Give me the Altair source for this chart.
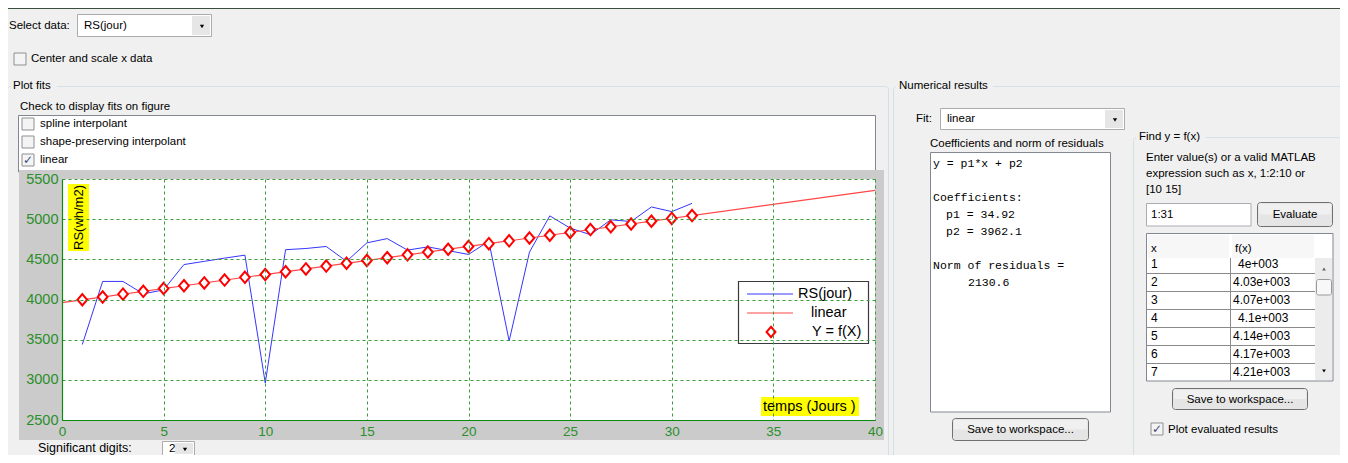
import altair as alt
import pandas as pd

# ---------------- data ----------------
days = list(range(1, 32))
rs_values = [3440, 4225, 4225, 4070, 4120, 4435, 4475, 4515, 4552, 2960,
             4620, 4635, 4660, 4475, 4705, 4758, 4615, 4655, 4608, 4561,
             4725, 3484, 4590, 5041, 4889, 4807, 4992, 4971, 5152, 5094, 5197]
fit_x = [0, 40]
fit_y = [3962.1, 5358.9]
eval_x = list(range(1, 32))
eval_y = [3997.0, 4031.9, 4066.9, 4101.8, 4136.7, 4171.6, 4206.5, 4241.5,
          4276.4, 4311.3, 4346.2, 4381.1, 4416.1, 4451.0, 4485.9, 4520.8,
          4555.7, 4590.7, 4625.6, 4660.5, 4695.4, 4730.3, 4765.3, 4800.2,
          4835.1, 4870.0, 4904.9, 4939.9, 4974.8, 5009.7, 5044.6]
x_ticks = [0, 5, 10, 15, 20, 25, 30, 35, 40]
y_ticks = [2500, 3000, 3500, 4000, 4500, 5000, 5500]
legend_labels = ["RS(jour)", "linear", "Y = f(X)"]
fit_items = ["spline interpolant", "shape-preserving interpolant", "linear"]
fit_checked = [False, False, True]
coef_lines = ["y = p1*x + p2", "Coefficients:", "p1 = 34.92", "p2 = 3962.1",
              "Norm of residuals =", "2130.6"]
find_help = ["Enter value(s) or a valid MATLAB", "expression such as x, 1:2:10 or", "[10 15]"]
table_x = ["1", "2", "3", "4", "5", "6", "7"]
table_fx = ["4e+003", "4.03e+003", "4.07e+003", "4.1e+003", "4.14e+003", "4.17e+003", "4.21e+003"]

# ---------------- styling / layout ----------------
OX, OY = 62, 179          # page position of the plot area's top-left corner
PW, PH = 813, 241         # plot area size
GUI = "Liberation Sans"
MONO = "Liberation Mono"
GREEN = "#0b8a0b"
LABEL_GREEN = "#2a8f2a"
GRID = "#3a9d3a"
ONE = pd.DataFrame({"k": [0]})


def rect(x1, y1, x2, y2, fill=None, stroke=None, sw=1, r=0):
    kw = dict(strokeWidth=sw, cornerRadius=r)
    if fill:
        kw["fill"] = fill
    else:
        kw["fill"] = "#ffffff"
        kw["fillOpacity"] = 0
    if stroke:
        kw["stroke"] = stroke
    return alt.Chart(ONE).mark_rect(**kw).encode(
        x=alt.value(x1 - OX), x2=alt.value(x2 - OX),
        y=alt.value(y1 - OY), y2=alt.value(y2 - OY))


def text(s, x, y, size=11.5, font=GUI, align="left", color="#000000", angle=0):
    kw = dict(text=s, align=align, baseline="middle", fontSize=size, font=font, color=color)
    if angle:
        kw["angle"] = angle
    return alt.Chart(ONE).mark_text(**kw).encode(x=alt.value(x - OX), y=alt.value(y - OY))


def hline(x1, x2, y, color, sw=1):
    return alt.Chart(ONE).mark_rule(color=color, strokeWidth=sw).encode(
        x=alt.value(x1 - OX), x2=alt.value(x2 - OX), y=alt.value(y - OY))


def vline(x, y1, y2, color, sw=1):
    return alt.Chart(ONE).mark_rule(color=color, strokeWidth=sw).encode(
        x=alt.value(x - OX), y=alt.value(y1 - OY), y2=alt.value(y2 - OY))


def arrow(x, y, size=18):
    return alt.Chart(ONE).mark_point(shape="triangle-down", filled=True, color="#000000",
                                     size=size, opacity=1).encode(
        x=alt.value(x - OX), y=alt.value(y - OY))


def checkbox(x, y, checked=False):
    parts = [rect(x, y, x + 12, y + 12, fill="#f4f4f4", stroke="#8e8f8f")]
    if checked:
        parts.append(text("\u2713", x + 6, y + 6, size=12, font="DejaVu Sans",
                          align="center", color="#3b4a7a"))
    return parts


def combo(x1, y1, x2, y2, label):
    return [rect(x1 + 0.5, y1 + 0.5, x2 - 0.5, y2 - 0.5, fill="#ffffff", stroke="#acacac"),
            rect(x2 - 20, y1 + 2, x2 - 2, y2 - 2, fill="#e6e6e6"),
            text(label, x1 + 7, (y1 + y2) / 2),
            arrow(x2 - 10, (y1 + y2) / 2 + 1)]


def button(x1, y1, x2, y2, label):
    return [rect(x1 + 0.5, y1 + 0.5, x2 - 0.5, y2 - 0.5, fill="#e5e5e5", stroke="#707070", r=3),
            rect(x1 + 2, y1 + 2, x2 - 2, (y1 + y2) / 2, fill="#f0f0f0"),
            text(label, (x1 + x2) / 2, (y1 + y2) / 2 + 0.5, align="center")]


gui = []
# top separator line
gui.append(rect(8, 8, 1340, 9, fill="#3b4d3b"))
# select data
gui.append(text("Select data:", 9, 26))
gui += combo(77, 14, 212, 37, "RS(jour)")
gui += checkbox(14, 53)
gui.append(text("Center and scale x data", 31, 59))
# group boxes
gui.append(rect(7.5, 86.5, 888.5, 470, stroke="#d5dfe5", r=3))
gui.append(rect(11, 79, 57, 94, fill="#f0f0f0"))
gui.append(text("Plot fits", 13, 86))
gui.append(rect(893.5, 86.5, 1345.5, 470, stroke="#d5dfe5", r=3))
gui.append(rect(896, 79, 993, 94, fill="#f0f0f0"))
gui.append(text("Numerical results", 899, 86))
gui.append(text("Check to display fits on figure", 20, 107))
gui.append(rect(18.5, 115.5, 875.5, 172, fill="#ffffff", stroke="#828790"))
for i, (item, chk) in enumerate(zip(fit_items, fit_checked)):
    gui += checkbox(22, 118 + 18 * i, chk)
    gui.append(text(item, 40, 124 + 18 * i))
# gray figure frame around the plot area
gui.append(rect(19, 170, OX, 440, fill="#cbcbcb"))
gui.append(rect(OX + PW, 170, 884, 440, fill="#cbcbcb"))
gui.append(rect(OX, 170, OX + PW, OY, fill="#cbcbcb"))
gui.append(rect(OX, OY + PH, OX + PW, 440, fill="#cbcbcb"))
# significant digits (lifted a little so it stays inside the page)
gui.append(text("Significant digits:", 38, 448, size=12.5))
gui += combo(162, 441, 195, 456, "2")
# numerical results
gui.append(text("Fit:", 916, 119))
gui += combo(940, 108, 1125, 130, "linear")
gui.append(text("Coefficients and norm of residuals", 930, 144))
gui.append(rect(930.5, 152.5, 1110.5, 412, fill="#ffffff", stroke="#828790"))
coef_pos = [(933, 164), (933, 198), (946, 215), (946, 232), (933, 266), (968, 283)]
for line, (lx, ly) in zip(coef_lines, coef_pos):
    gui.append(text(line, lx, ly, size=11.5, font=MONO))
gui += button(952, 418, 1089, 441, "Save to workspace...")
# find y = f(x)
gui.append(rect(1133.5, 137.5, 1341, 470, stroke="#d5dfe5", r=3))
gui.append(rect(1136, 130, 1206, 145, fill="#f0f0f0"))
gui.append(text("Find y = f(x)", 1139, 137))
for i, line in enumerate(find_help):
    gui.append(text(line, 1146, 158 + 16 * i))
gui.append(rect(1146.5, 203.5, 1251, 226, fill="#ffffff", stroke="#abadb3"))
gui.append(text("1:31", 1151, 215))
gui += button(1257, 202, 1333, 227, "Evaluate")
# table
gui.append(rect(1146.5, 233.5, 1333, 381, fill="#ffffff", stroke="#828790"))
gui.append(rect(1148, 235, 1229, 258, fill="#f7f7f7"))
gui.append(rect(1232, 235, 1314, 258, fill="#f7f7f7"))
gui.append(text("x", 1151, 249))
gui.append(text("f(x)", 1235, 249))
gui.append(rect(1315, 258, 1332, 380, fill="#ececec"))
gui.append(rect(1316.5, 279.5, 1331.5, 295, fill="#f8f8f8", stroke="#9a9a9a", r=2))
gui.append(alt.Chart(ONE).mark_point(shape="triangle-up", filled=True, color="#606060", size=14, opacity=1)
           .encode(x=alt.value(1324 - OX), y=alt.value(269 - OY)))
gui.append(arrow(1324, 371, size=14))
gui.append(vline(1230.5, 258, 381, "#8a8a8a"))
for i in range(6):
    gui.append(hline(1147, 1315, 273.5 + 18 * i, "#8a8a8a"))
for i, (tx, tf) in enumerate(zip(table_x, table_fx)):
    yy = 264 + 18 * i
    gui.append(text(tx, 1151, yy, size=12))
    gui.append(text(tf, 1233 if len(tf) > 8 else 1238, yy, size=12))
gui += button(1172, 388, 1308, 410, "Save to workspace...")
gui += checkbox(1151, 423, True)
gui.append(text("Plot evaluated results", 1168, 430))

# ---------------- plot ----------------
xs = alt.Scale(domain=[0, 40], nice=False, zero=False)
ys = alt.Scale(domain=[2500, 5500], nice=False, zero=False)
xaxis = alt.Axis(values=x_ticks, title=None, grid=True, ticks=False, domainColor=GREEN,
                 domainWidth=1.2, labelColor=LABEL_GREEN, labelFont=GUI, labelFontSize=13.5,
                 labelPadding=4, gridColor=GRID, gridDash=[3, 3], gridWidth=1, format="d",
                 labelFlush=False, labelOverlap=False, zindex=1)
yaxis = alt.Axis(values=y_ticks, title=None, grid=True, ticks=False, domainColor=GREEN,
                 domainWidth=1.2, labelColor=LABEL_GREEN, labelFont=GUI, labelFontSize=14.5,
                 labelPadding=4, gridColor=GRID, gridDash=[3, 3], gridWidth=1, format="d",
                 labelFlush=False, labelOverlap=False, zindex=1)

df_rs = pd.DataFrame({"x": days, "y": rs_values})
df_fit = pd.DataFrame({"x": fit_x, "y": fit_y})
df_eval = pd.DataFrame({"x": eval_x, "y": eval_y})

line_rs = alt.Chart(df_rs).mark_line(color="#3535ff", strokeWidth=1).encode(
    x=alt.X("x:Q", scale=xs, axis=xaxis), y=alt.Y("y:Q", scale=ys, axis=yaxis))
line_fit = alt.Chart(df_fit).mark_line(color="#ff4646", strokeWidth=1.2).encode(
    x=alt.X("x:Q", scale=xs, axis=xaxis), y=alt.Y("y:Q", scale=ys, axis=yaxis))
DIAMOND = "M0,-1L0.85,0L0,1L-0.85,0Z"
pts = alt.Chart(df_eval).mark_point(shape=DIAMOND, size=130, filled=True, fill="#ffffff",
                                    stroke="#ff0000", strokeWidth=2, opacity=1).encode(
    x=alt.X("x:Q", scale=xs, axis=xaxis), y=alt.Y("y:Q", scale=ys, axis=yaxis))

overlay = []
# axis labels with yellow boxes
overlay.append(rect(68, 184, 89, 251, fill="#ffff00"))
overlay.append(text("RS(wh/m2)", 79, 217.5, size=13, angle=270, align="center"))
overlay.append(rect(761, 397, 859, 416, fill="#ffff00"))
overlay.append(text("temps (Jours )", 763, 406.5, size=14.5))
# legend
overlay.append(rect(738.5, 281.5, 868.5, 343.5, fill="#ffffff", stroke="#3a3a3a", sw=1.2))
overlay.append(hline(747, 793, 294, "#3535ff"))
overlay.append(hline(747, 793, 313, "#ff4646", sw=1.2))
overlay.append(alt.Chart(ONE).mark_point(shape=DIAMOND, size=110, filled=True, fill="#ffffff",
                                         stroke="#ff0000", strokeWidth=2, opacity=1)
               .encode(x=alt.value(771 - OX), y=alt.value(332 - OY)))
legend_pos = [(798, 294), (811, 313), (812, 332)]
for lab, (lx, ly) in zip(legend_labels, legend_pos):
    overlay.append(text(lab, lx, ly, size=14.5))

chart = alt.layer(*gui, line_rs, line_fit, pts, *overlay).properties(
    width=PW, height=PH,
    autosize=alt.AutoSizeParams(type="none"),
    padding={"left": OX - 8, "top": OY - 8, "right": 1332 - (OX - 8) - PW,
             "bottom": 447 - (OY - 8) - PH},
    background="#f0f0f0",
).configure_view(fill="#ffffff", stroke=None)

chart.save("out.html", embed_options={"renderer": "svg", "actions": False})
